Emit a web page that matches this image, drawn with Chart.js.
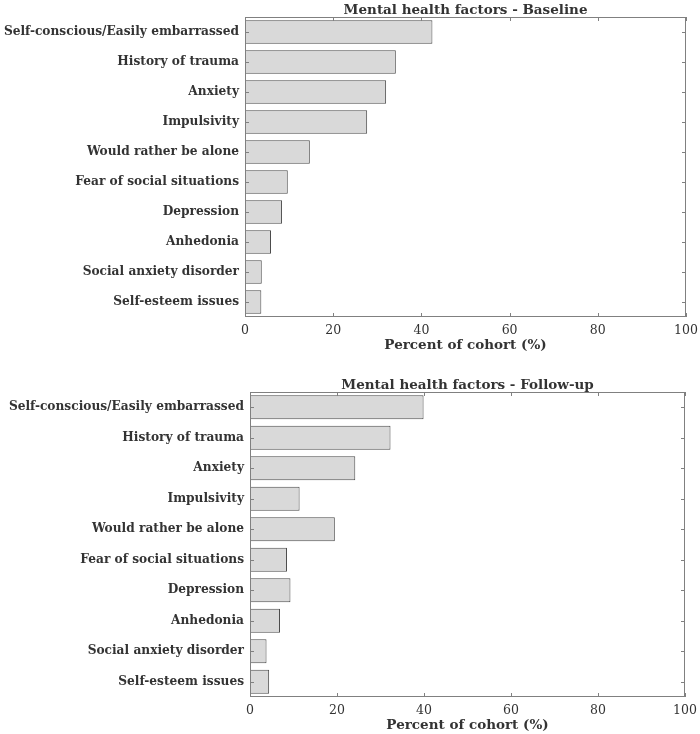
<!DOCTYPE html>
<html>
<head>
<meta charset="utf-8">
<title>Mental health factors</title>
<script src="https://cdn.jsdelivr.net/npm/chart.js@4.4.1/dist/chart.umd.min.js"></script>
<style>
  body { margin: 0; background: #fff; width: 700px; height: 734px; position: relative; overflow: hidden; }
  .panel { position: absolute; left: 0; width: 700px; }
</style>
</head>
<body>
<div class="panel" style="top:0;height:355px"><canvas id="baselineChart"></canvas></div>
<div class="panel" style="top:360px;height:374px"><canvas id="followupChart"></canvas></div>
<script>
// Data (percent of cohort)
const FACTORS = [
  'Self-conscious/Easily embarrassed',
  'History of trauma',
  'Anxiety',
  'Impulsivity',
  'Would rather be alone',
  'Fear of social situations',
  'Depression',
  'Anhedonia',
  'Social anxiety disorder',
  'Self-esteem issues'
];
const BASELINE = [42.5, 34.2, 32.0, 27.7, 14.7, 9.7, 8.4, 5.9, 3.8, 3.7];
const FOLLOWUP = [39.9, 32.3, 24.2, 11.4, 19.5, 8.5, 9.3, 6.9, 3.8, 4.4];
const X_TICKS = [0, 20, 40, 60, 80, 100];

// Colours / fonts
const TEXT_COLOR = '#333333';
const AXIS_COLOR = '#808080';
const BAR_FILL = '#d9d9d9';
const BAR_EDGE = '#4a4a4a';
const FONT = '"DejaVu Serif", serif';

/**
 * Draws the axes box, inward ticks and the panel title
 */
const framePlugin = {
  id: 'frame',
  afterDatasetsDraw(chart, args, opts) {
    const { ctx, chartArea: a, scales: { x, y } } = chart;
    ctx.save();
    ctx.strokeStyle = AXIS_COLOR;
    ctx.lineWidth = 1;
    ctx.strokeRect(a.left + 0.5, a.top + 0.5, a.width - 1, a.height - 1);

    ctx.beginPath();
    X_TICKS.forEach(v => {
      const px = Math.round(x.getPixelForValue(v)) + 0.5;
      ctx.moveTo(px, a.bottom); ctx.lineTo(px, a.bottom - 4);
      ctx.moveTo(px, a.top); ctx.lineTo(px, a.top + 4);
    });
    FACTORS.forEach((f, i) => {
      const py = Math.round(y.getPixelForValue(i)) + 0.5;
      ctx.moveTo(a.left, py); ctx.lineTo(a.left + 4, py);
      ctx.moveTo(a.right, py); ctx.lineTo(a.right - 4, py);
    });
    ctx.stroke();

    ctx.fillStyle = TEXT_COLOR;
    ctx.font = 'bold 13.5px ' + FONT;
    ctx.textAlign = 'center';
    ctx.textBaseline = 'alphabetic';
    ctx.fillText(opts.text, (a.left + a.right) / 2, a.top - 3.5);
    ctx.restore();
  }
};

/**
 * Build one horizontal bar panel
 */
function createPanel(canvasId, title, values, layout) {
  const ctx = document.getElementById(canvasId).getContext('2d');
  return new Chart(ctx, {
    type: 'bar',
    data: {
      labels: FACTORS,
      datasets: [{
        data: values,
        backgroundColor: BAR_FILL,
        borderColor: BAR_EDGE,
        borderWidth: 1,
        borderSkipped: false,
        barPercentage: 0.78,
        categoryPercentage: 1
      }]
    },
    options: {
      indexAxis: 'y',
      responsive: true,
      maintainAspectRatio: false,
      animation: false,
      layout: { padding: layout.padding },
      plugins: {
        legend: { display: false },
        tooltip: { enabled: false },
        frame: { text: title }
      },
      scales: {
        x: {
          min: 0,
          max: 100,
          grid: { display: false, drawTicks: false },
          border: { display: false },
          ticks: {
            stepSize: 20,
            padding: 6,
            color: TEXT_COLOR,
            font: { family: FONT, size: 12.5 }
          },
          title: {
            display: true,
            text: 'Percent of cohort (%)',
            color: TEXT_COLOR,
            padding: { top: 0, bottom: 0 },
            font: { family: FONT, size: 13.5, weight: 'bold' }
          },
          afterFit: scale => {
            scale.height = 37;
            scale.paddingLeft = 0;
            scale.paddingRight = 0;
          }
        },
        y: {
          grid: { display: false, drawTicks: false },
          border: { display: false },
          ticks: {
            padding: 6,
            color: TEXT_COLOR,
            font: { family: FONT, size: 12.2, weight: 'bold' }
          },
          afterFit: scale => {
            scale.width = layout.axisWidth;
            scale.paddingTop = 0;
            scale.paddingBottom = 0;
          }
        }
      }
    },
    plugins: [framePlugin]
  });
}

createPanel('baselineChart', 'Mental health factors - Baseline', BASELINE, {
  padding: { top: 17, right: 14, bottom: 1, left: 0 },
  axisWidth: 245
});
createPanel('followupChart', 'Mental health factors - Follow-up', FOLLOWUP, {
  padding: { top: 32, right: 15, bottom: 0, left: 0 },
  axisWidth: 250
});
</script>
</body>
</html>
